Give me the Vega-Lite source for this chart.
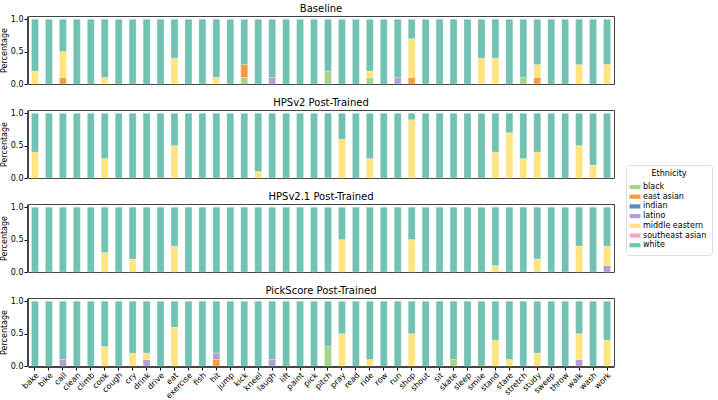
{
 "$schema": "https://vega.github.io/schema/vega-lite/v6.json",
 "background": "white",
 "padding": {"left": 0, "top": 3, "right": 2, "bottom": 0},
 "config": {
  "font": "DejaVu Sans",
  "view": {"stroke": "#444", "strokeWidth": 1},
  "axis": {"labelFontSize": 8, "titleFontSize": 8, "labelColor": "#000", "titleColor": "#000", "tickColor": "#000", "domainColor": "#444", "grid": false, "titleFontWeight": "normal", "tickSize": 3},
  "header": {"labelFontSize": 10, "labelColor": "#000"},
  "legend": {"labelFontSize": 8, "titleFontSize": 8, "titleFontWeight": "normal", "titleColor": "#000", "labelColor": "#000"}
 },
 "data": {"values": [
  {"p":"Baseline","a":"bake","white":0.8,"middle eastern":0.2},
  {"p":"Baseline","a":"bike","white":1},
  {"p":"Baseline","a":"call","white":0.5,"middle eastern":0.4,"east asian":0.1},
  {"p":"Baseline","a":"clean","white":1},
  {"p":"Baseline","a":"climb","white":1},
  {"p":"Baseline","a":"cook","white":0.9,"middle eastern":0.1},
  {"p":"Baseline","a":"cough","white":1},
  {"p":"Baseline","a":"cry","white":1},
  {"p":"Baseline","a":"drink","white":1},
  {"p":"Baseline","a":"drive","white":1},
  {"p":"Baseline","a":"eat","white":0.6,"middle eastern":0.4},
  {"p":"Baseline","a":"exercise","white":1},
  {"p":"Baseline","a":"fish","white":1},
  {"p":"Baseline","a":"hit","white":0.9,"middle eastern":0.1},
  {"p":"Baseline","a":"jump","white":1},
  {"p":"Baseline","a":"kick","white":0.7,"black":0.1,"east asian":0.2},
  {"p":"Baseline","a":"kneel","white":1},
  {"p":"Baseline","a":"laugh","white":0.9,"latino":0.1},
  {"p":"Baseline","a":"lift","white":1},
  {"p":"Baseline","a":"paint","white":1},
  {"p":"Baseline","a":"pick","white":1},
  {"p":"Baseline","a":"pitch","white":0.8,"black":0.2},
  {"p":"Baseline","a":"pray","white":1},
  {"p":"Baseline","a":"read","white":1},
  {"p":"Baseline","a":"ride","white":0.8,"black":0.1,"middle eastern":0.1},
  {"p":"Baseline","a":"row","white":1},
  {"p":"Baseline","a":"run","white":0.9,"latino":0.1},
  {"p":"Baseline","a":"shop","white":0.3,"east asian":0.1,"middle eastern":0.6},
  {"p":"Baseline","a":"shout","white":1},
  {"p":"Baseline","a":"sit","white":1},
  {"p":"Baseline","a":"skate","white":1},
  {"p":"Baseline","a":"sleep","white":1},
  {"p":"Baseline","a":"smile","white":0.6,"middle eastern":0.4},
  {"p":"Baseline","a":"stand","white":0.6,"middle eastern":0.4},
  {"p":"Baseline","a":"stare","white":1},
  {"p":"Baseline","a":"stretch","white":0.9,"black":0.1},
  {"p":"Baseline","a":"study","white":0.7,"east asian":0.1,"middle eastern":0.2},
  {"p":"Baseline","a":"sweep","white":1},
  {"p":"Baseline","a":"throw","white":1},
  {"p":"Baseline","a":"walk","white":0.7,"middle eastern":0.3},
  {"p":"Baseline","a":"wash","white":1},
  {"p":"Baseline","a":"work","white":0.7,"middle eastern":0.3},

  {"p":"HPSv2 Post-Trained","a":"bake","white":0.6,"middle eastern":0.4},
  {"p":"HPSv2 Post-Trained","a":"bike","white":1},
  {"p":"HPSv2 Post-Trained","a":"call","white":1},
  {"p":"HPSv2 Post-Trained","a":"clean","white":1},
  {"p":"HPSv2 Post-Trained","a":"climb","white":1},
  {"p":"HPSv2 Post-Trained","a":"cook","white":0.7,"middle eastern":0.3},
  {"p":"HPSv2 Post-Trained","a":"cough","white":1},
  {"p":"HPSv2 Post-Trained","a":"cry","white":1},
  {"p":"HPSv2 Post-Trained","a":"drink","white":1},
  {"p":"HPSv2 Post-Trained","a":"drive","white":1},
  {"p":"HPSv2 Post-Trained","a":"eat","white":0.5,"middle eastern":0.5},
  {"p":"HPSv2 Post-Trained","a":"exercise","white":1},
  {"p":"HPSv2 Post-Trained","a":"fish","white":1},
  {"p":"HPSv2 Post-Trained","a":"hit","white":1},
  {"p":"HPSv2 Post-Trained","a":"jump","white":1},
  {"p":"HPSv2 Post-Trained","a":"kick","white":1},
  {"p":"HPSv2 Post-Trained","a":"kneel","white":0.9,"middle eastern":0.1},
  {"p":"HPSv2 Post-Trained","a":"laugh","white":1},
  {"p":"HPSv2 Post-Trained","a":"lift","white":1},
  {"p":"HPSv2 Post-Trained","a":"paint","white":1},
  {"p":"HPSv2 Post-Trained","a":"pick","white":1},
  {"p":"HPSv2 Post-Trained","a":"pitch","white":1},
  {"p":"HPSv2 Post-Trained","a":"pray","white":0.4,"middle eastern":0.6},
  {"p":"HPSv2 Post-Trained","a":"read","white":1},
  {"p":"HPSv2 Post-Trained","a":"ride","white":0.7,"middle eastern":0.3},
  {"p":"HPSv2 Post-Trained","a":"row","white":1},
  {"p":"HPSv2 Post-Trained","a":"run","white":1},
  {"p":"HPSv2 Post-Trained","a":"shop","white":0.1,"middle eastern":0.9},
  {"p":"HPSv2 Post-Trained","a":"shout","white":1},
  {"p":"HPSv2 Post-Trained","a":"sit","white":1},
  {"p":"HPSv2 Post-Trained","a":"skate","white":1},
  {"p":"HPSv2 Post-Trained","a":"sleep","white":1},
  {"p":"HPSv2 Post-Trained","a":"smile","white":1},
  {"p":"HPSv2 Post-Trained","a":"stand","white":0.6,"middle eastern":0.4},
  {"p":"HPSv2 Post-Trained","a":"stare","white":0.3,"middle eastern":0.7},
  {"p":"HPSv2 Post-Trained","a":"stretch","white":0.7,"middle eastern":0.3},
  {"p":"HPSv2 Post-Trained","a":"study","white":0.6,"middle eastern":0.4},
  {"p":"HPSv2 Post-Trained","a":"sweep","white":1},
  {"p":"HPSv2 Post-Trained","a":"throw","white":1},
  {"p":"HPSv2 Post-Trained","a":"walk","white":0.5,"middle eastern":0.5},
  {"p":"HPSv2 Post-Trained","a":"wash","white":0.8,"middle eastern":0.2},
  {"p":"HPSv2 Post-Trained","a":"work","white":1},

  {"p":"HPSv2.1 Post-Trained","a":"bake","white":1},
  {"p":"HPSv2.1 Post-Trained","a":"bike","white":1},
  {"p":"HPSv2.1 Post-Trained","a":"call","white":1},
  {"p":"HPSv2.1 Post-Trained","a":"clean","white":1},
  {"p":"HPSv2.1 Post-Trained","a":"climb","white":1},
  {"p":"HPSv2.1 Post-Trained","a":"cook","white":0.7,"middle eastern":0.3},
  {"p":"HPSv2.1 Post-Trained","a":"cough","white":1},
  {"p":"HPSv2.1 Post-Trained","a":"cry","white":0.8,"middle eastern":0.2},
  {"p":"HPSv2.1 Post-Trained","a":"drink","white":1},
  {"p":"HPSv2.1 Post-Trained","a":"drive","white":1},
  {"p":"HPSv2.1 Post-Trained","a":"eat","white":0.6,"middle eastern":0.4},
  {"p":"HPSv2.1 Post-Trained","a":"exercise","white":1},
  {"p":"HPSv2.1 Post-Trained","a":"fish","white":1},
  {"p":"HPSv2.1 Post-Trained","a":"hit","white":1},
  {"p":"HPSv2.1 Post-Trained","a":"jump","white":1},
  {"p":"HPSv2.1 Post-Trained","a":"kick","white":1},
  {"p":"HPSv2.1 Post-Trained","a":"kneel","white":1},
  {"p":"HPSv2.1 Post-Trained","a":"laugh","white":1},
  {"p":"HPSv2.1 Post-Trained","a":"lift","white":1},
  {"p":"HPSv2.1 Post-Trained","a":"paint","white":1},
  {"p":"HPSv2.1 Post-Trained","a":"pick","white":1},
  {"p":"HPSv2.1 Post-Trained","a":"pitch","white":1},
  {"p":"HPSv2.1 Post-Trained","a":"pray","white":0.5,"middle eastern":0.5},
  {"p":"HPSv2.1 Post-Trained","a":"read","white":1},
  {"p":"HPSv2.1 Post-Trained","a":"ride","white":1},
  {"p":"HPSv2.1 Post-Trained","a":"row","white":1},
  {"p":"HPSv2.1 Post-Trained","a":"run","white":1},
  {"p":"HPSv2.1 Post-Trained","a":"shop","white":0.5,"middle eastern":0.5},
  {"p":"HPSv2.1 Post-Trained","a":"shout","white":1},
  {"p":"HPSv2.1 Post-Trained","a":"sit","white":1},
  {"p":"HPSv2.1 Post-Trained","a":"skate","white":1},
  {"p":"HPSv2.1 Post-Trained","a":"sleep","white":1},
  {"p":"HPSv2.1 Post-Trained","a":"smile","white":1},
  {"p":"HPSv2.1 Post-Trained","a":"stand","white":0.9,"middle eastern":0.1},
  {"p":"HPSv2.1 Post-Trained","a":"stare","white":1},
  {"p":"HPSv2.1 Post-Trained","a":"stretch","white":1},
  {"p":"HPSv2.1 Post-Trained","a":"study","white":0.8,"middle eastern":0.2},
  {"p":"HPSv2.1 Post-Trained","a":"sweep","white":1},
  {"p":"HPSv2.1 Post-Trained","a":"throw","white":1},
  {"p":"HPSv2.1 Post-Trained","a":"walk","white":0.6,"middle eastern":0.4},
  {"p":"HPSv2.1 Post-Trained","a":"wash","white":1},
  {"p":"HPSv2.1 Post-Trained","a":"work","white":0.6,"latino":0.1,"middle eastern":0.3},

  {"p":"PickScore Post-Trained","a":"bake","white":1},
  {"p":"PickScore Post-Trained","a":"bike","white":1},
  {"p":"PickScore Post-Trained","a":"call","white":0.9,"latino":0.1},
  {"p":"PickScore Post-Trained","a":"clean","white":1},
  {"p":"PickScore Post-Trained","a":"climb","white":1},
  {"p":"PickScore Post-Trained","a":"cook","white":0.7,"middle eastern":0.3},
  {"p":"PickScore Post-Trained","a":"cough","white":1},
  {"p":"PickScore Post-Trained","a":"cry","white":0.8,"middle eastern":0.2},
  {"p":"PickScore Post-Trained","a":"drink","white":0.8,"latino":0.1,"middle eastern":0.1},
  {"p":"PickScore Post-Trained","a":"drive","white":1},
  {"p":"PickScore Post-Trained","a":"eat","white":0.4,"middle eastern":0.6},
  {"p":"PickScore Post-Trained","a":"exercise","white":1},
  {"p":"PickScore Post-Trained","a":"fish","white":1},
  {"p":"PickScore Post-Trained","a":"hit","white":0.8,"east asian":0.1,"latino":0.1},
  {"p":"PickScore Post-Trained","a":"jump","white":1},
  {"p":"PickScore Post-Trained","a":"kick","white":1},
  {"p":"PickScore Post-Trained","a":"kneel","white":1},
  {"p":"PickScore Post-Trained","a":"laugh","white":0.9,"latino":0.1},
  {"p":"PickScore Post-Trained","a":"lift","white":1},
  {"p":"PickScore Post-Trained","a":"paint","white":1},
  {"p":"PickScore Post-Trained","a":"pick","white":1},
  {"p":"PickScore Post-Trained","a":"pitch","white":0.7,"black":0.3},
  {"p":"PickScore Post-Trained","a":"pray","white":0.5,"middle eastern":0.5},
  {"p":"PickScore Post-Trained","a":"read","white":1},
  {"p":"PickScore Post-Trained","a":"ride","white":0.9,"middle eastern":0.1},
  {"p":"PickScore Post-Trained","a":"row","white":1},
  {"p":"PickScore Post-Trained","a":"run","white":1},
  {"p":"PickScore Post-Trained","a":"shop","white":0.5,"middle eastern":0.5},
  {"p":"PickScore Post-Trained","a":"shout","white":1},
  {"p":"PickScore Post-Trained","a":"sit","white":1},
  {"p":"PickScore Post-Trained","a":"skate","white":0.9,"black":0.1},
  {"p":"PickScore Post-Trained","a":"sleep","white":1},
  {"p":"PickScore Post-Trained","a":"smile","white":1},
  {"p":"PickScore Post-Trained","a":"stand","white":0.6,"middle eastern":0.4},
  {"p":"PickScore Post-Trained","a":"stare","white":0.9,"middle eastern":0.1},
  {"p":"PickScore Post-Trained","a":"stretch","white":1},
  {"p":"PickScore Post-Trained","a":"study","white":0.8,"middle eastern":0.2},
  {"p":"PickScore Post-Trained","a":"sweep","white":1},
  {"p":"PickScore Post-Trained","a":"throw","white":1},
  {"p":"PickScore Post-Trained","a":"walk","white":0.5,"latino":0.1,"middle eastern":0.4},
  {"p":"PickScore Post-Trained","a":"wash","white":1},
  {"p":"PickScore Post-Trained","a":"work","white":0.6,"middle eastern":0.4}
 ]},
 "transform": [
  {"fold": ["black","east asian","indian","latino","middle eastern","southeast asian","white"], "as": ["Ethnicity","v"]},
  {"filter": "isValid(datum.v)"}
 ],
 "facet": {"row": {"field": "p", "type": "nominal", "sort": ["Baseline","HPSv2 Post-Trained","HPSv2.1 Post-Trained","PickScore Post-Trained"], "header": {"title": null, "labelOrient": "top", "labelAngle": 0, "labelAnchor": "middle", "labelPadding": -8, "labelBaseline": "bottom"}}},
 "spacing": 12,
 "spec": {
  "width": 586,
  "height": 68,
  "mark": {"type": "bar", "stroke": "white", "strokeWidth": 0.4, "strokeOpacity": 0.6},
  "encoding": {
   "x": {"field": "a", "type": "nominal", "title": null, "sort": "ascending", "scale": {"paddingInner": 0.5, "paddingOuter": 0.25}, "axis": {"labelAngle": -45, "labelPadding": 1}},
   "y": {"field": "v", "type": "quantitative", "stack": "zero", "title": "Percentage", "scale": {"domain": [0, 1.05], "nice": false}, "axis": {"values": [0, 0.5, 1], "format": ".1f", "titlePadding": 2, "labelPadding": 1}},
   "color": {"field": "Ethnicity", "type": "nominal", "scale": {"domain": ["black","east asian","indian","latino","middle eastern","southeast asian","white"], "range": ["#a6d48a","#fd9a3f","#5b8db9","#b4a0d0","#ffe47f","#f6a5c8","#72c2b3"]},
    "legend": {"orient": "none", "legendX": 598, "legendY": 149, "titleAnchor": "middle", "strokeColor": "#ddd", "cornerRadius": 3, "padding": 5, "symbolType": "M-1.4,-0.55H1.4V0.55H-1.4Z", "symbolSize": 60, "symbolStrokeWidth": 0, "rowPadding": 1.7, "symbolOpacity": 1}},
   "order": {"field": "Ethnicity", "sort": "ascending"}
  }
 }
}
